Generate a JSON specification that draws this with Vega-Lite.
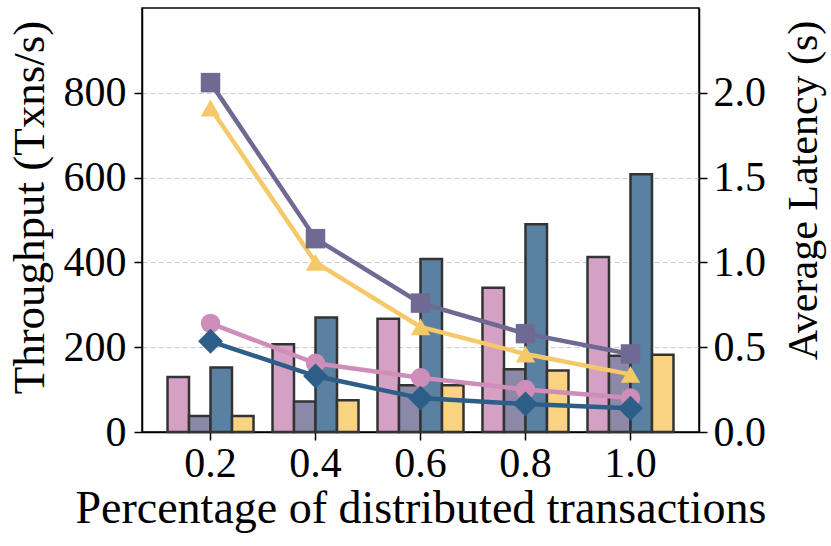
{
  "$schema": "https://vega.github.io/schema/vega-lite/v6.json",
  "autosize": {"type": "none"},
  "width": 557,
  "height": 424,
  "padding": {"left": 142, "top": 8, "right": 132, "bottom": 114},
  "datasets": {
    "throughput": [
      {"p": "0.2", "sys": "S1", "v": 130}, {"p": "0.2", "sys": "S2", "v": 38}, {"p": "0.2", "sys": "S3", "v": 152}, {"p": "0.2", "sys": "S4", "v": 38},
      {"p": "0.4", "sys": "S1", "v": 207}, {"p": "0.4", "sys": "S2", "v": 72}, {"p": "0.4", "sys": "S3", "v": 270}, {"p": "0.4", "sys": "S4", "v": 75},
      {"p": "0.6", "sys": "S1", "v": 267}, {"p": "0.6", "sys": "S2", "v": 110}, {"p": "0.6", "sys": "S3", "v": 408}, {"p": "0.6", "sys": "S4", "v": 110},
      {"p": "0.8", "sys": "S1", "v": 340}, {"p": "0.8", "sys": "S2", "v": 148}, {"p": "0.8", "sys": "S3", "v": 490}, {"p": "0.8", "sys": "S4", "v": 145},
      {"p": "1.0", "sys": "S1", "v": 413}, {"p": "1.0", "sys": "S2", "v": 180}, {"p": "1.0", "sys": "S3", "v": 608}, {"p": "1.0", "sys": "S4", "v": 182}
    ],
    "latency": [
      {"p": "0.2", "sys": "S1", "v": 0.64}, {"p": "0.2", "sys": "S2", "v": 2.06}, {"p": "0.2", "sys": "S3", "v": 0.535}, {"p": "0.2", "sys": "S4", "v": 1.91},
      {"p": "0.4", "sys": "S1", "v": 0.405}, {"p": "0.4", "sys": "S2", "v": 1.14}, {"p": "0.4", "sys": "S3", "v": 0.33}, {"p": "0.4", "sys": "S4", "v": 1.0},
      {"p": "0.6", "sys": "S1", "v": 0.32}, {"p": "0.6", "sys": "S2", "v": 0.76}, {"p": "0.6", "sys": "S3", "v": 0.2}, {"p": "0.6", "sys": "S4", "v": 0.62},
      {"p": "0.8", "sys": "S1", "v": 0.25}, {"p": "0.8", "sys": "S2", "v": 0.58}, {"p": "0.8", "sys": "S3", "v": 0.165}, {"p": "0.8", "sys": "S4", "v": 0.46},
      {"p": "1.0", "sys": "S1", "v": 0.2}, {"p": "1.0", "sys": "S2", "v": 0.46}, {"p": "1.0", "sys": "S3", "v": 0.14}, {"p": "1.0", "sys": "S4", "v": 0.34}
    ]
  },
  "encoding": {
    "x": {
      "field": "p",
      "type": "ordinal",
      "title": "Percentage of distributed transactions",
      "scale": {"paddingInner": 0.181, "paddingOuter": 0.243},
      "axis": {"labelAngle": 0, "tickSize": 8, "labelPadding": 3, "titlePadding": 2}
    }
  },
  "layer": [
    {
      "data": {"name": "throughput"},
      "mark": {"type": "bar", "stroke": "#333333", "strokeWidth": 2.5},
      "encoding": {
        "xOffset": {"field": "sys", "type": "nominal", "scale": {"paddingInner": 0, "paddingOuter": 0}},
        "y": {
          "field": "v",
          "type": "quantitative",
          "title": "Throughput (Txns/s)",
          "scale": {"domain": [0, 1000], "nice": false},
          "axis": {
            "values": [0, 200, 400, 600, 800], "grid": true, "tickSize": 8, "labelPadding": 8,
            "titleFontSize": 45, "titleAngle": 270, "titleBaseline": "middle", "titleAlign": "center",
            "titleX": -113, "titleY": 199
          }
        },
        "color": {
          "field": "sys",
          "type": "nominal",
          "legend": null,
          "scale": {"domain": ["S1", "S2", "S3", "S4"], "range": ["#D4A1C4", "#8C88A8", "#5A80A2", "#F9D381"]}
        }
      }
    },
    {
      "data": {"name": "latency"},
      "encoding": {
        "y": {
          "field": "v",
          "type": "quantitative",
          "title": "Average Latency (s)",
          "scale": {"domain": [0, 2.5], "nice": false},
          "axis": {
            "orient": "right", "values": [0, 0.5, 1, 1.5, 2], "format": ".1f", "grid": false, "tickSize": 8, "labelPadding": 6,
            "titleFontSize": 42, "titleAngle": 270, "titleBaseline": "middle", "titleAlign": "center",
            "titleX": 104, "titleY": 182
          }
        },
        "color": {
          "field": "sys",
          "type": "nominal",
          "legend": null,
          "scale": {"domain": ["S1", "S2", "S3", "S4"], "range": ["#CF8DB9", "#6E6A94", "#2D5E88", "#F5C869"]}
        }
      },
      "layer": [
        {"mark": {"type": "line", "strokeWidth": 4.5}},
        {
          "mark": {"type": "point", "filled": true, "opacity": 1},
          "encoding": {
            "shape": {
              "field": "sys",
              "type": "nominal",
              "legend": null,
              "scale": {"domain": ["S1", "S2", "S3", "S4"], "range": ["circle", "square", "diamond", "triangle-up"]}
            },
            "size": {"condition": {"test": "datum.sys === 'S3'", "value": 620}, "value": 380}
          }
        }
      ]
    }
  ],
  "resolve": {"scale": {"y": "independent", "color": "independent"}},
  "config": {
    "font": "Liberation Serif",
    "background": "white",
    "view": {"stroke": "black", "strokeWidth": 1.5},
    "axis": {
      "labelFont": "Liberation Serif",
      "titleFont": "Liberation Serif",
      "labelFontSize": 42,
      "titleFontSize": 46,
      "titleFontWeight": "normal",
      "labelColor": "black",
      "titleColor": "black",
      "domainColor": "black",
      "domainWidth": 1.5,
      "tickColor": "black",
      "tickWidth": 1.5,
      "gridColor": "#cccccc",
      "gridDash": [5, 3],
      "gridWidth": 1
    }
  }
}
